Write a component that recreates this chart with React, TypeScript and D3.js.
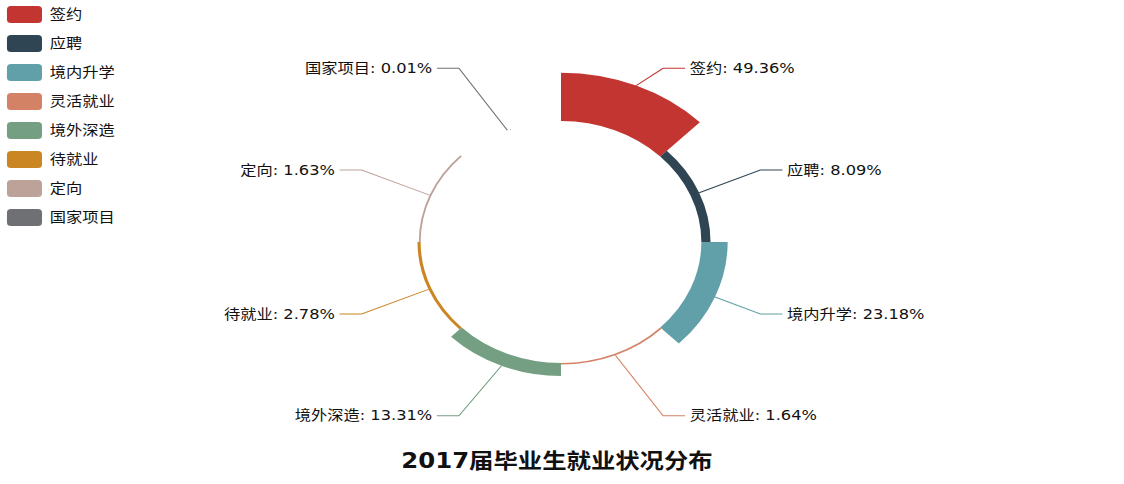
import React from 'react';
import * as d3 from 'd3';

const categories = ['签约', '应聘', '境内升学', '灵活就业', '境外深造', '待就业', '定向', '国家项目'];
const shares = [49.36, 8.09, 23.18, 1.64, 13.31, 2.78, 1.63, 0.01];
const colors = ['#c23531', '#2f4554', '#61a0a8', '#d48265', '#749f83', '#ca8622', '#bda29a', '#6e7074'];
const title = '2017届毕业生就业状况分布';

const WIDTH = 1124;
const HEIGHT = 484;
const SX = 1.16; // the whole chart is stretched horizontally
const CX = 561 / SX;
const CY = 242;
const INNER = 121;
const OUTER = 169.3;
const LABEL_R = 188;
const LABEL_REACH = 204;
const LEN2 = 19;
const FONT = '"DejaVu Sans", "Noto Sans CJK SC", sans-serif';

export default function App() {
  // rose chart: equal angles, radius grows with the value
  const slices = d3.pie<number>().value(() => 1).sort(null)(shares);
  const rScale = d3.scaleLinear().domain([0, d3.max(shares) || 1]).range([INNER, OUTER]);
  const arc = d3
    .arc<d3.PieArcDatum<number>>()
    .innerRadius(INNER)
    .outerRadius(d => rScale(d.data));

  const labels = slices.map((s, i) => {
    const mid = (s.startAngle + s.endAngle) / 2;
    const sin = Math.sin(mid);
    const cos = Math.cos(mid);
    const r = rScale(s.data);
    const dir = sin >= 0 ? 1 : -1;
    const y = -cos * LABEL_R;
    const endX = dir * Math.sqrt(LABEL_REACH * LABEL_REACH - y * y);
    const elbowX = endX - dir * LEN2;
    return {
      points: [[sin * r, -cos * r], [elbowX, y], [endX, y]],
      textX: endX + dir * 4,
      y,
      anchor: dir > 0 ? 'start' : 'end',
      text: `${categories[i]}: ${shares[i].toFixed(2)}%`,
      color: colors[i],
    };
  });

  const line = d3.line();

  return (
    <svg
      width={WIDTH}
      height={HEIGHT}
      style={{ position: 'absolute', left: 0, top: 0, background: '#fff' }}
      fontFamily={FONT}
    >
      <g transform={`scale(${SX},1)`}>
        {/* legend */}
        {categories.map((c, i) => (
          <g key={c} transform={`translate(0,${14.5 + i * 29})`}>
            <rect x={6} y={-8.5} width={30.2} height={17} rx={3.5} fill={colors[i]} />
            <text x={43} y={0} dominantBaseline="central" fontSize={14} fill="#111">
              {c}
            </text>
          </g>
        ))}

        {/* rose sectors */}
        <g transform={`translate(${CX},${CY})`}>
          {slices.map((s, i) => (
            <path key={i} d={arc(s) || ''} fill={colors[i]} />
          ))}
          {labels.map((l, i) => (
            <g key={i}>
              <path d={line(l.points as [number, number][]) || ''} fill="none" stroke={l.color} strokeWidth={1} />
              <text
                x={l.textX}
                y={l.y}
                dominantBaseline="central"
                textAnchor={l.anchor}
                fontSize={14}
                fill="#111"
              >
                {l.text}
              </text>
            </g>
          ))}
        </g>

        {/* title */}
        <text
          x={557 / SX}
          y={461}
          textAnchor="middle"
          dominantBaseline="central"
          fontSize={21}
          fontWeight="bold"
          fill="#111"
        >
          {title}
        </text>
      </g>
    </svg>
  );
}
